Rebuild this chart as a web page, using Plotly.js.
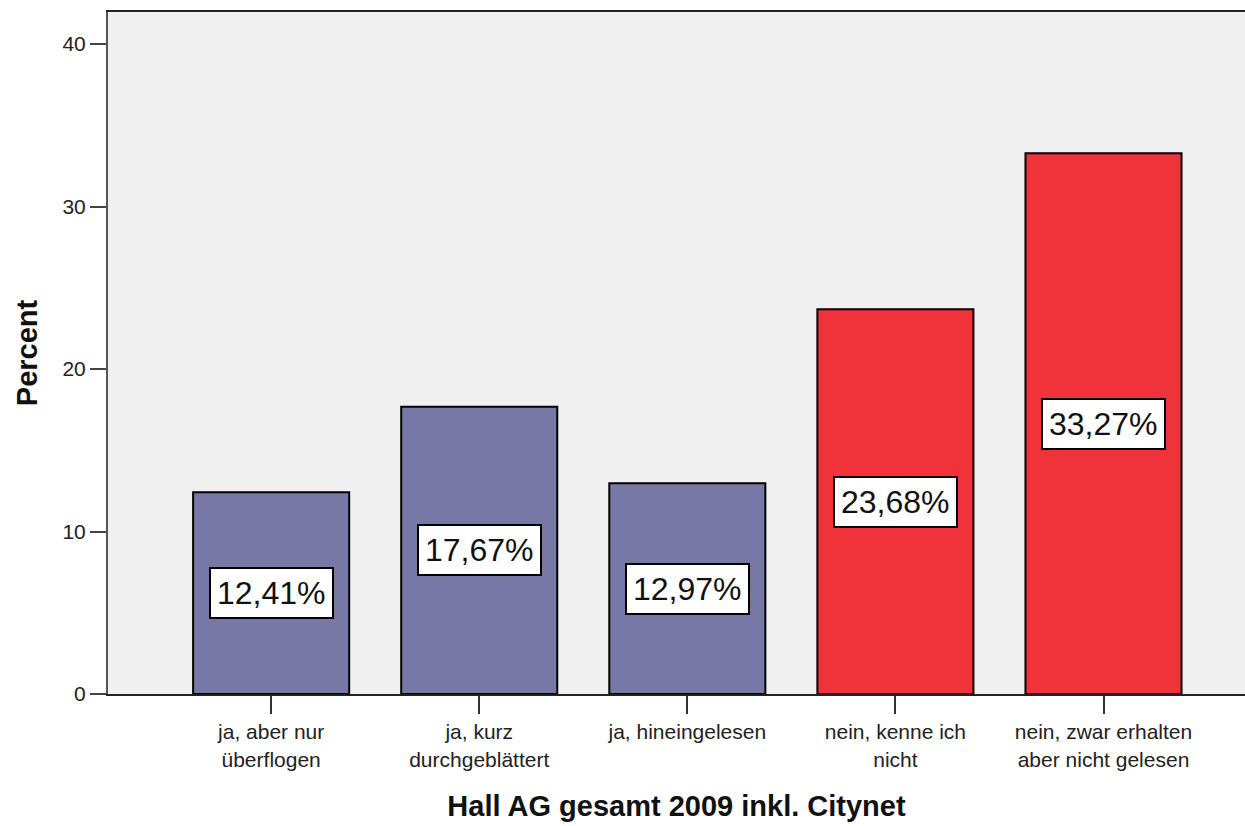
<!DOCTYPE html>
<html>
<head>
<meta charset="utf-8">
<script src="https://cdn.plot.ly/plotly-3.0.1.min.js"></script>
<style>html,body{margin:0;padding:0;background:#fff;}#chart{width:1245px;height:826px;}</style>
</head>
<body>
<div id="chart"></div>
<script>
const categories = ["ja, aber nur<br>überflogen", "ja, kurz<br>durchgeblättert", "ja, hineingelesen", "nein, kenne ich<br>nicht", "nein, zwar erhalten<br>aber nicht gelesen"];
const percentValues = [12.41, 17.67, 12.97, 23.68, 33.27];
const valueLabels = ["12,41%", "17,67%", "12,97%", "23,68%", "33,27%"];
const barColors = ["#7878a6", "#7878a6", "#7878a6", "#f0323a", "#f0323a"];
const yTickVals = [0, 10, 20, 30, 40];

const xIdx = categories.map((_, i) => i);

const trace = {
  type: "bar",
  x: xIdx,
  y: percentValues,
  width: 0.75,
  marker: {color: barColors, line: {color: "#000", width: 2}},
  hoverinfo: "none"
};

const annotations = percentValues.map((v, i) => ({
  x: i, y: v / 2, xref: "x", yref: "y",
  text: valueLabels[i],
  showarrow: false,
  font: {family: "Liberation Sans, Arial, sans-serif", size: 32, color: "#111"},
  bgcolor: "#ffffff",
  bordercolor: "#000",
  borderwidth: 2,
  borderpad: 6
}));

const layout = {
  width: 1245, height: 826,
  margin: {l: 108, r: 0, t: 12, b: 132},
  paper_bgcolor: "#ffffff",
  plot_bgcolor: "#f0f0f0",
  showlegend: false,
  font: {family: "Liberation Sans, Arial, sans-serif", color: "#222"},
  xaxis: {
    range: [-0.784, 4.68],
    tickmode: "array", tickvals: xIdx, ticktext: categories,
    ticks: "outside", ticklen: 18, tickwidth: 2, tickcolor: "#333",
    tickfont: {size: 21, color: "#222"},
    showline: true, linecolor: "#222", linewidth: 2, mirror: true,
    showgrid: false, zeroline: false,
    title: {text: "Hall AG gesamt 2009 inkl. Citynet", font: {size: 29, color: "#111", family: "Liberation Sans, Arial, sans-serif", weight: "bold"}, standoff: 26},
    automargin: false
  },
  yaxis: {
    range: [0, 41.97],
    tickmode: "array", tickvals: yTickVals,
    ticks: "outside", ticklen: 16, tickwidth: 2, tickcolor: "#444",
    tickfont: {size: 21, color: "#222"},
    showline: true, linecolor: "#555", linewidth: 2, mirror: false,
    showgrid: false, zeroline: false,
    title: {text: "Percent", font: {size: 29, color: "#111", family: "Liberation Sans, Arial, sans-serif", weight: "bold"}, standoff: 16},
    automargin: false
  },
  annotations: annotations
};

Plotly.newPlot("chart", [trace], layout, {displayModeBar: false, staticPlot: true});
</script>
</body>
</html>
